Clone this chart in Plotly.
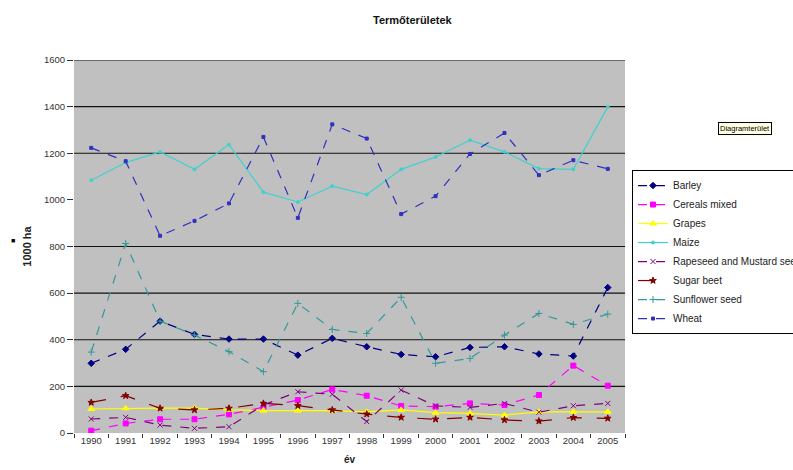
import plotly.graph_objects as go

# Harvested area by crop, thousand hectares
YEARS = ["1990", "1991", "1992", "1993", "1994", "1995", "1996", "1997",
         "1998", "1999", "2000", "2001", "2002", "2003", "2004", "2005"]

BARLEY = [299, 359, 480, 423, 403, 403, 334, 406, 370, 337, 327, 367, 370, 339, 330, 624]
CEREALS_MIXED = [10, 41, 59, 59, 80, 109, 141, 187, 160, 116, 113, 127, 120, 163, 289, 203]
GRAPES = [103, 106, 107, 107, 99, 96, 96, 96, 91, 99, 87, 84, 77, 91, 91, 91]
MAIZE = [1084, 1160, 1206, 1131, 1237, 1033, 991, 1059, 1023, 1131, 1184, 1256, 1206, 1134, 1131, 1399]
RAPESEED = [60, 67, 34, 20, 27, 120, 177, 166, 49, 184, 116, 110, 127, 89, 117, 127]
SUGAR_BEET = [131, 160, 106, 99, 106, 127, 117, 99, 81, 67, 59, 67, 56, 51, 66, 63]
SUNFLOWER = [347, 813, 480, 420, 349, 263, 556, 444, 427, 582, 299, 320, 420, 513, 466, 510]
WHEAT = [1223, 1166, 846, 910, 985, 1270, 923, 1324, 1263, 939, 1016, 1197, 1287, 1106, 1170, 1133]

Y_TICKS = [0, 200, 400, 600, 800, 1000, 1200, 1400, 1600]
GRID_LEVELS = [200, 400, 600, 800, 1200, 1400, 1600]

# name, values, colour, dash, marker symbol, marker size
SERIES = [
    ("Barley", BARLEY, "#000080", "dash", "diamond", 5),
    ("Cereals mixed", CEREALS_MIXED, "#FF00FF", "dash", "square", 5),
    ("Grapes", GRAPES, "#FFFF00", "solid", "triangle-up", 6),
    ("Maize", MAIZE, "#40D0D0", "solid", "circle", 3),
    ("Rapeseed and Mustard seed", RAPESEED, "#800080", "dash", "x-thin", 5),
    ("Sugar beet", SUGAR_BEET, "#800000", "longdash", "star", 5),
    ("Sunflower seed", SUNFLOWER, "#339999", "dash", "cross-thin", 5),
    ("Wheat", WHEAT, "#3030C0", "dash", "square", 3),
]

fig = go.Figure()
for name, vals, color, dash, symbol, size in SERIES:
    fig.add_trace(go.Scatter(
        x=YEARS, y=vals, name=name, mode="lines+markers",
        line=dict(color=color, width=1.2, dash=dash),
        marker=dict(symbol=symbol, size=size, color=color,
                    line=dict(color=color, width=1)),
    ))

for level in GRID_LEVELS:
    fig.add_hline(y=level, line=dict(color="#111111", width=1.2), layer="below")

fig.update_layout(
    width=793, height=470,
    margin=dict(l=74, r=168, t=60, b=37, autoexpand=False),
    paper_bgcolor="white",
    plot_bgcolor="#C0C0C0",
    font=dict(family="Liberation Sans, Arial, sans-serif", size=9, color="#222222"),
    title=dict(text="<b>Termőterületek</b>", x=0.52, xanchor="center",
               y=0.957, yanchor="middle", font=dict(size=11, color="#111111")),
    showlegend=True,
    legend=dict(x=1.0127, xanchor="left", y=0.705, yanchor="top",
                bgcolor="white", bordercolor="#000000", borderwidth=1,
                font=dict(size=10, color="#222222"), tracegroupgap=0,
                itemwidth=30),
    xaxis=dict(
        type="category", range=[-0.5, 15.5],
        ticks="outside", tickson="boundaries", ticklen=4, tickcolor="#333333",
        showgrid=False, showline=False, zeroline=False,
        tickfont=dict(size=9.5, color="#333333"),
        title=dict(text="<b>év</b>", font=dict(size=10, color="#222222"), standoff=11),
    ),
    yaxis=dict(
        range=[0, 1600], tickvals=Y_TICKS,
        ticks="outside", ticklen=6, tickcolor="#333333",
        showgrid=False, showline=False, zeroline=False,
        tickfont=dict(size=9.5, color="#333333"),
        title=dict(text="<b>1000 ha</b>", font=dict(size=11, color="#222222"), standoff=10),
    ),
)

# small key box left of the value axis title
fig.add_annotation(text="■", xref="paper", yref="paper", x=-0.111, y=0.515,
                   xanchor="center", yanchor="middle", showarrow=False,
                   font=dict(size=7, color="#000000"))

# chart-area tooltip label
fig.add_annotation(text="Diagramterület", xref="paper", yref="paper",
                   x=1.218, y=0.817, xanchor="center", yanchor="middle",
                   showarrow=False, bgcolor="#FFFFE1", bordercolor="#000000",
                   borderwidth=1, borderpad=1,
                   font=dict(size=7.5, color="#000000"))

fig.write_html("out.html")
